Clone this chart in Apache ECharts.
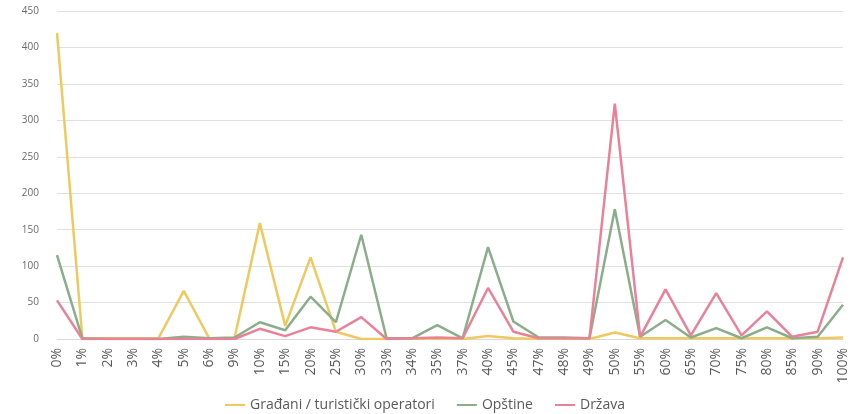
<!DOCTYPE html>
<html>
<head>
<meta charset="utf-8">
<script src="https://cdn.jsdelivr.net/npm/echarts@6/dist/echarts.min.js"></script>
<style>
html,body{margin:0;padding:0;background:#fff;}
#chart{width:850px;height:414px;}
</style>
</head>
<body>
<div id="chart"></div>
<script>
const categories = ['0%','1%','2%','3%','4%','5%','6%','9%','10%','15%','20%','25%','30%','33%','34%','35%','37%','40%','45%','47%','48%','49%','50%','55%','60%','65%','70%','75%','80%','85%','90%','100%'];
const gradjani = [420,1,1,1,1,66,1,1,159,18,112,10,0,0,0,0,0,4,1,0,0,0,9,1,1,1,1,1,1,1,1,2];
const opstine  = [115,1,0,0,0,3,1,2,23,12,58,23,143,1,1,19,1,126,24,2,2,1,178,3,26,2,15,1,16,1,3,47];
const drzava   = [53,0,0,0,0,0,0,0,14,4,16,10,30,0,1,2,1,70,10,1,1,1,323,3,68,5,63,5,38,3,10,112];
const seriesNames = ['Građani / turistički operatori','Opštine','Država'];
const yTicks = {min:0, max:450, interval:50};

const chart = echarts.init(document.getElementById('chart'));
const mk = (name, data, color) => ({
  name, type:'line', data, symbol:'none', smooth:false,
  lineStyle:{width:2.5, color}, itemStyle:{color}
});
chart.setOption({
  animation:false,
  grid:{left:57, right:6, top:11, bottom:75},
  legend:{
    bottom:-3, left:'center', icon:'rect', itemWidth:20, itemHeight:2, itemGap:22,
    textStyle:{fontFamily:'"Open Sans", sans-serif', fontSize:14, color:'#595959'}
  },
  xAxis:{
    type:'category', data:categories, boundaryGap:false,
    axisLine:{show:true, lineStyle:{color:'#d9d9d9'}},
    axisTick:{show:false},
    axisLabel:{rotate:90, interval:0, fontSize:14, color:'#595959', fontFamily:'"Open Sans", sans-serif', margin:9}
  },
  yAxis:{
    type:'value', min:yTicks.min, max:yTicks.max, interval:yTicks.interval,
    axisLine:{show:false}, axisTick:{show:false},
    splitLine:{lineStyle:{color:'#e0e0e0', width:1}},
    axisLabel:{fontSize:10, color:'#6a6a6a', fontFamily:'"Open Sans", sans-serif', margin:18}
  },
  series:[
    mk(seriesNames[0], gradjani, '#F0C860'),
    mk(seriesNames[1], opstine, '#8AAE89'),
    mk(seriesNames[2], drzava, '#E98199')
  ]
});
</script>
</body>
</html>
